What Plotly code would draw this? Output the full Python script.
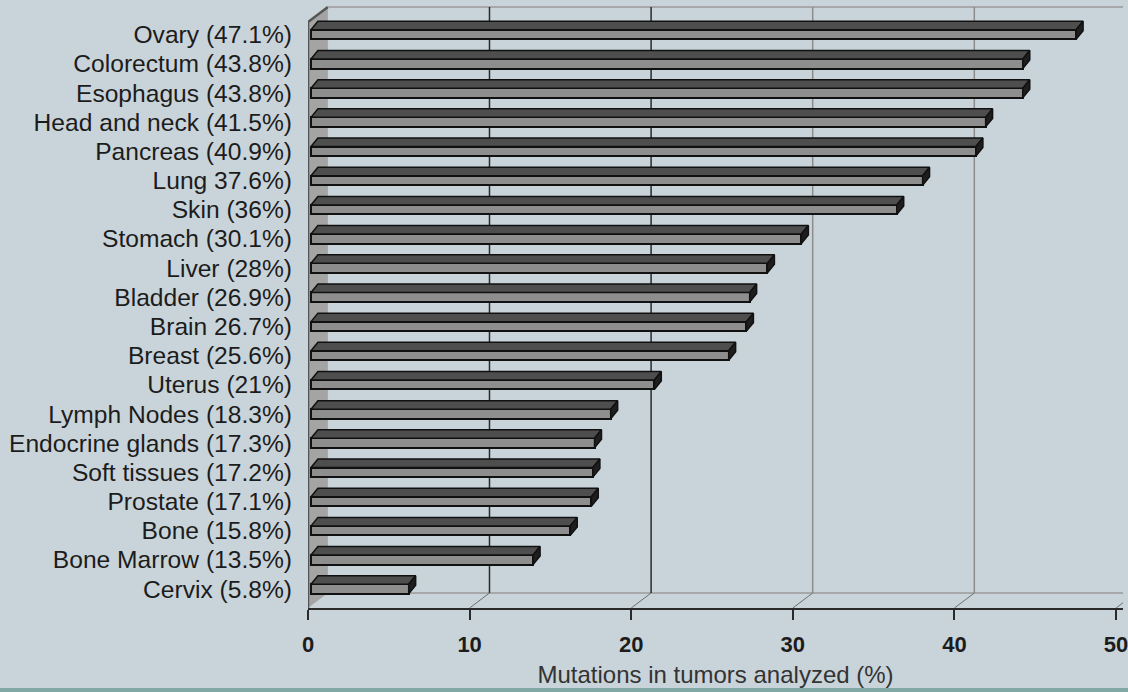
import plotly.graph_objects as go

# ---------------- data ----------------
categories = ["Ovary (47.1%)", "Colorectum (43.8%)", "Esophagus (43.8%)",
              "Head and neck (41.5%)", "Pancreas (40.9%)", "Lung 37.6%)",
              "Skin (36%)", "Stomach (30.1%)", "Liver (28%)", "Bladder (26.9%)",
              "Brain 26.7%)", "Breast (25.6%)", "Uterus (21%)",
              "Lymph Nodes (18.3%)", "Endocrine glands (17.3%)",
              "Soft tissues (17.2%)", "Prostate (17.1%)", "Bone (15.8%)",
              "Bone Marrow (13.5%)", "Cervix (5.8%)"]
values = [47.1, 43.8, 43.8, 41.5, 40.9, 37.6, 36.0, 30.1, 28.0, 26.9,
          26.7, 25.6, 21.0, 18.3, 17.3, 17.2, 17.1, 15.8, 13.5, 5.8]
x_ticks = [0, 10, 20, 30, 40, 50]
dark_grid_ticks = [10, 20]
axis_title = "Mutations in tumors analyzed (%)"

# ---------------- layout / style constants ----------------
W, H = 1128, 692
ML, MT, MB = 308, 4, 84
PX_X = 16.26          # pixels per x unit
PX_Y = 29.18          # pixels per category
ROW0_PX = 589         # pixel row of the lowest category centre
X_MAX = (W - ML) / PX_X


def yd(p):
    return (ROW0_PX - p) / PX_Y


Y_MIN, Y_MAX = yd(H - MB), yd(MT)
Y_FRONT = yd(608)
Y_BACKF = yd(593)
Y_TOPB = yd(7)
Y_TOPF = yd(22)
DX = 20 / PX_X

BASE = 3 / PX_X
END_SHIFT = 7 / PX_X
FACE_H = 9.5 / PX_Y
TOP_DX = 7 / PX_X
TOP_DY = 8.5 / PX_Y

BG = "#c9d4da"
TXT = "#1c1c1c"
FONT = "Liberation Sans, Arial, sans-serif"

n = len(values)
pos = [n - 1 - k for k in range(n)]

fig = go.Figure()

# front faces of the bars
fig.add_trace(go.Bar(
    orientation="h", y=pos, x=[v + END_SHIFT - BASE for v in values], base=BASE,
    width=FACE_H, marker=dict(color="#8e8e8e", line=dict(color="#111111", width=2)),
    hoverinfo="skip", showlegend=False))

# top and right faces
tx, ty, rx, ry = [], [], [], []
for p, v in zip(pos, values):
    x0, x1 = BASE, v + END_SHIFT
    yt, yb = p + FACE_H / 2, p - FACE_H / 2
    tx += [x0, x0 + TOP_DX, x1 + TOP_DX, x1, x0, None]
    ty += [yt, yt + TOP_DY, yt + TOP_DY, yt, yt, None]
    rx += [x1, x1, x1 + TOP_DX, x1 + TOP_DX, x1, None]
    ry += [yb, yt, yt + TOP_DY, yb + TOP_DY, yb, None]
fig.add_trace(go.Scatter(x=tx, y=ty, mode="lines", fill="toself",
                         fillcolor="#4e4e4e", line=dict(color="#111111", width=1.5),
                         hoverinfo="skip", showlegend=False))
fig.add_trace(go.Scatter(x=rx, y=ry, mode="lines", fill="toself",
                         fillcolor="#1e1e1e", line=dict(color="#111111", width=1.5),
                         hoverinfo="skip", showlegend=False))

shapes = []
# left wall
shapes.append(dict(type="path", xref="x", yref="y", layer="below",
                   path=f"M 0,{Y_FRONT} L 0,{Y_TOPF} L {DX},{Y_TOPB} L {DX},{Y_BACKF} Z",
                   fillcolor="#a4a4a4", line=dict(width=0)))
shapes.append(dict(type="path", xref="x", yref="y", layer="below",
                   path=f"M 0,{Y_FRONT} L 0,{Y_TOPF} L {DX},{Y_TOPB}",
                   line=dict(color="#555555", width=2.5)))
# back wall top and floor lines
for yy in (Y_TOPB, Y_BACKF):
    shapes.append(dict(type="line", xref="x", yref="y", layer="below",
                       x0=DX, x1=X_MAX + 2, y0=yy, y1=yy,
                       line=dict(color="#9a9a9a", width=1.5)))
# gridlines on the back wall + floor diagonals
for t in x_ticks[1:]:
    col = "#2a2a2a" if t in dark_grid_ticks else "#8c8c8c"
    shapes.append(dict(type="line", xref="x", yref="y", layer="below",
                       x0=t + DX, x1=t + DX, y0=Y_BACKF, y1=Y_TOPB,
                       line=dict(color=col, width=1.5)))
    shapes.append(dict(type="line", xref="x", yref="y", layer="below",
                       x0=t, x1=t + DX, y0=Y_FRONT, y1=Y_BACKF,
                       line=dict(color="#6e6e6e", width=1)))
# teal strip at the bottom
shapes.append(dict(type="rect", xref="paper", yref="paper", layer="above",
                   x0=-1, x1=2,
                   y0=-(688 - (H - MB)) / (H - MB - MT),
                   y1=-(700 - (H - MB)) / (H - MB - MT),
                   fillcolor="#82a8a6", line=dict(width=0)))

fig.update_layout(
    width=W, height=H,
    margin=dict(l=ML, r=0, t=MT, b=MB, pad=0),
    paper_bgcolor=BG, plot_bgcolor=BG,
    font=dict(family=FONT, color=TXT),
    shapes=shapes,
    bargap=0,
    xaxis=dict(range=[0, X_MAX], tickvals=x_ticks, ticktext=[str(t) for t in x_ticks],
               showgrid=False, zeroline=False, showline=True, linecolor="#2a2a2a",
               linewidth=2, ticks="outside", ticklen=10, tickwidth=2, tickcolor="#2a2a2a",
               tickfont=dict(size=22, weight="bold", color=TXT), ticklabelstandoff=6,
               ticklabeloverflow="allow",
               title=dict(text=axis_title, font=dict(size=24, color="#333333"), standoff=10)),
    yaxis=dict(range=[Y_MIN, Y_MAX], tickvals=pos, ticktext=categories,
               showgrid=False, zeroline=False, showline=False, ticks="",
               tickfont=dict(size=24.6, color=TXT), ticklabelstandoff=15),
)

fig.write_html("out.html")
